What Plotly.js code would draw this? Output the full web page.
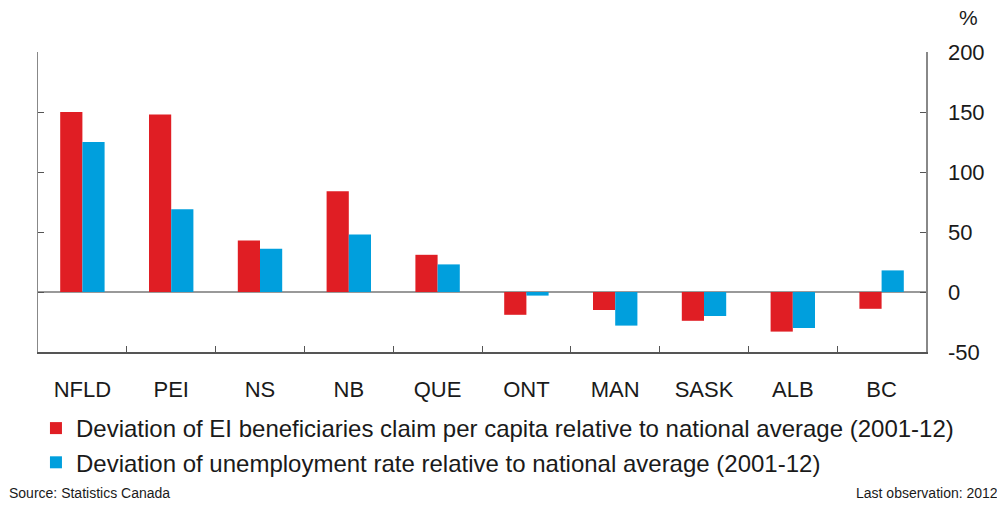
<!DOCTYPE html>
<html><head><meta charset="utf-8">
<script src="https://cdn.plot.ly/plotly-3.0.1.min.js"></script>
<style>html,body{margin:0;padding:0;background:#fff}#chart{width:997px;height:506px}</style>
</head><body><div id="chart"></div>
<script>
const categories = ["NFLD","PEI","NS","NB","QUE","ONT","MAN","SASK","ALB","BC"];
const eiClaims = [150, 148, 43, 84, 31, -19, -15, -24, -33, -14];
const unemployment = [125, 69, 36, 48, 23, -3, -28, -20, -30, 18];
const yTicks = [-50, 0, 50, 100, 150, 200];
const seriesNames = [
  "Deviation of EI beneficiaries claim per capita relative to national average (2001-12)",
  "Deviation of unemployment rate relative to national average (2001-12)"
];

const traces = [
  {type:"bar", x:categories, y:eiClaims, name:seriesNames[0], marker:{color:"#E01E24"}},
  {type:"bar", x:categories, y:unemployment, name:seriesNames[1], marker:{color:"#009FDD"}}
];

const layout = {
  width:997, height:506,
  margin:{l:38, r:71, t:52, b:154},
  paper_bgcolor:"#fff", plot_bgcolor:"#fff",
  barmode:"group", bargap:0.5, bargroupgap:0,
  font:{family:"Liberation Sans, Arial, sans-serif", color:"#1a1a1a"},
  showlegend:true,
  legend:{x:-0.0023, xanchor:"left", y:-0.18, yanchor:"top", orientation:"v",
    font:{size:24, color:"#1a1a1a"}, bgcolor:"rgba(0,0,0,0)", itemwidth:30, tracegroupgap:0},
  xaxis:{type:"category", showline:true, linecolor:"#555", linewidth:1.5,
    ticks:"inside", ticklen:6, tickcolor:"#555", tickson:"boundaries",
    tickfont:{size:22, color:"#1a1a1a"}, ticklabelstandoff:17, showgrid:false, zeroline:false, fixedrange:true},
  yaxis:{side:"right", range:[-50,200], tickvals:yTicks, ticktext:yTicks.map(String),
    showline:true, mirror:"ticks", linecolor:"#888", linewidth:1.5,
    ticks:"inside", ticklen:6, tickcolor:"#555", showgrid:false,
    zeroline:true, zerolinecolor:"#999", zerolinewidth:2,
    tickfont:{size:22, color:"#1a1a1a"}, ticklabelstandoff:16},
  annotations:[
    {xref:"paper", yref:"paper", x:1.0475, y:1.07, xanchor:"center", yanchor:"bottom",
     text:"%", showarrow:false, font:{size:21, color:"#1a1a1a"}},
    {xref:"paper", yref:"paper", x:-0.035, y:-0.47, xanchor:"left", yanchor:"middle",
     text:"Source: Statistics Canada", showarrow:false,
     font:{family:"Liberation Sans Narrow, Arial Narrow, sans-serif", size:14, color:"#1a1a1a"}},
    {xref:"paper", yref:"paper", x:1.083, y:-0.47, xanchor:"right", yanchor:"middle",
     text:"Last observation: 2012", showarrow:false,
     font:{family:"Liberation Sans Narrow, Arial Narrow, sans-serif", size:14, color:"#1a1a1a"}}
  ]
};

Plotly.newPlot("chart", traces, layout, {displayModeBar:false, staticPlot:true});
</script></body></html>
